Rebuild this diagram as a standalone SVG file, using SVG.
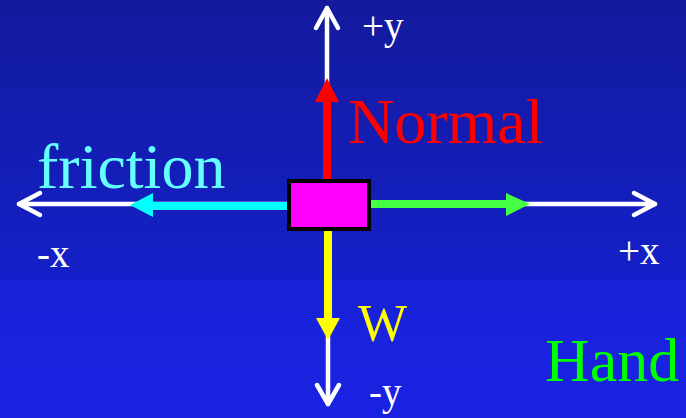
<svg xmlns="http://www.w3.org/2000/svg" width="686" height="418" viewBox="0 0 686 418">
<defs>
<linearGradient id="bg" x1="0" y1="0" x2="0" y2="1">
<stop offset="0" stop-color="#131a9c"/>
<stop offset="0.66" stop-color="#1420c8"/>
<stop offset="0.68" stop-color="#1822d8"/>
<stop offset="1" stop-color="#1a22e2"/>
</linearGradient>
<style>
.axis{stroke:#ffffff;stroke-width:4.5;fill:none;stroke-linecap:round;stroke-linejoin:round}
.lbl{font-family:"Liberation Serif","Times New Roman",serif}
.ax{fill:#ffffff;font-size:39px}
.big{font-size:64px}
</style>
</defs>
<rect width="686" height="418" fill="url(#bg)"/>
<g id="connectors">
<g id="axes">
<line class="axis" x1="19" y1="204" x2="655" y2="204"/>
<polyline class="axis" points="40,193 19,204 40,215"/>
<polyline class="axis" points="634,193 655,204 634,215"/>
<line class="axis" x1="327" y1="8" x2="327" y2="180"/>
<polyline class="axis" points="316,28 327,8 338,28"/>
<line class="axis" x1="328" y1="230" x2="328" y2="404"/>
<polyline class="axis" points="317,385 328,404 339,385"/>
</g>
<g id="normal-arrow">
<line x1="327" y1="100" x2="327" y2="181" stroke="#ff0000" stroke-width="8"/>
<polygon points="327,78 315,102 339,102" fill="#ff0000"/>
</g>
<g id="weight-arrow">
<line x1="328" y1="229" x2="328" y2="320" stroke="#ffff00" stroke-width="8"/>
<polygon points="328,340 316,318 340,318" fill="#ffff00"/>
</g>
<g id="friction-arrow">
<line x1="151" y1="206" x2="289" y2="206" stroke="#00ffff" stroke-width="8"/>
<polygon points="130,205 153,193 153,217" fill="#00ffff"/>
</g>
<g id="hand-arrow">
<line x1="369" y1="204" x2="508" y2="204" stroke="#44ff44" stroke-width="8"/>
<polygon points="530,204 506,193 506,216" fill="#44ff44"/>
</g>
</g>
<g id="box">
<rect x="289" y="181" width="80" height="48" fill="#ff00ff" stroke="#000000" stroke-width="4"/>
</g>
<g id="labels" class="lbl">
<text class="ax" x="362" y="39">+y</text>
<text class="ax" x="37" y="267">-x</text>
<text class="ax" x="618" y="264">+x</text>
<text class="ax" x="369" y="405">-y</text>
<text class="big" x="348" y="143" fill="#ff0000">Normal</text>
<text class="big" x="37" y="188" fill="#66ffff">friction</text>
<text x="358" y="341" fill="#ffff00" font-size="52px">W</text>
<text x="545" y="381" fill="#00ff00" font-size="62px">Hand</text>
</g>
</svg>
